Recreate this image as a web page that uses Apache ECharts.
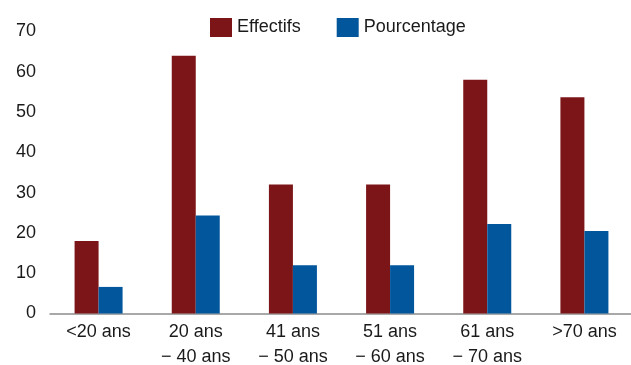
<!DOCTYPE html>
<html>
<head>
<meta charset="utf-8">
<script src="https://cdn.jsdelivr.net/npm/echarts@6/dist/echarts.min.js"></script>
<style>
  html, body { margin: 0; padding: 0; background: #fff; }
  #chart { width: 631px; height: 365px; }
</style>
</head>
<body>
<div id="chart"></div>
<script>
// Age groups
const categories = ['<20 ans', '20 ans\n\u2212 40 ans', '41 ans\n\u2212 50 ans', '51 ans\n\u2212 60 ans', '61 ans\n\u2212 70 ans', '>70 ans'];
// Head counts per age group
const effectifs = [18, 64, 32, 32, 58, 53.7];
// Share of the total, in percent
const pourcentage = [6.6, 24.3, 12, 12, 22.2, 20.5];
const yTicks = { min: 0, max: 70, interval: 10 };

const FONT = "'Liberation Sans Narrow', 'Arial Narrow', 'Liberation Sans', Arial, sans-serif";

const chart = echarts.init(document.getElementById('chart'), null, { renderer: 'canvas' });
chart.setOption({
  animation: false,
  legend: {
    top: 13,
    left: 205,
    itemWidth: 22,
    itemHeight: 19,
    itemGap: 36,
    icon: 'rect',
    textStyle: { fontFamily: FONT, fontSize: 18, color: '#1a1a1a' },
    data: ['Effectifs', 'Pourcentage']
  },
  grid: {
    left: 50, right: -2, top: 31.5, bottom: 51.5,
    containLabel: false,
    outerBoundsMode: 'none'
  },
  xAxis: {
    type: 'category',
    data: categories,
    axisLine: { lineStyle: { color: '#8c8c8c', width: 1.5 } },
    axisTick: { show: false },
    axisLabel: { fontFamily: FONT, fontSize: 18, color: '#1a1a1a', lineHeight: 25, margin: 6, interval: 0 }
  },
  yAxis: {
    type: 'value',
    min: yTicks.min,
    max: yTicks.max,
    interval: yTicks.interval,
    axisLine: { show: false },
    axisTick: { show: false },
    splitLine: { show: false },
    axisLabel: { fontFamily: FONT, fontSize: 18, color: '#1a1a1a', margin: 14 }
  },
  series: [
    {
      name: 'Effectifs',
      type: 'bar',
      data: effectifs,
      barWidth: 24,
      barGap: '0%',
      itemStyle: { color: '#7c1517' }
    },
    {
      name: 'Pourcentage',
      type: 'bar',
      data: pourcentage,
      barWidth: 24,
      barGap: '0%',
      itemStyle: { color: '#01569c' }
    }
  ]
});
</script>
</body>
</html>
